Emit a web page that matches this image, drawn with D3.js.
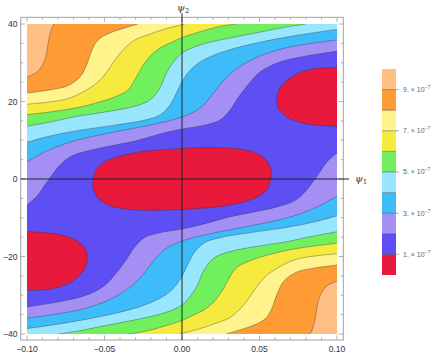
<!DOCTYPE html>
<html><head><meta charset="utf-8">
<script src="https://cdn.jsdelivr.net/npm/d3@7"></script>
<style>body{margin:0;background:#fff}</style>
</head><body>
<svg id="c" width="448" height="360"></svg>
<script>
// ---------------- data (ψ1, ψ2) ----------------
const levelValues = [1e-7,2e-7,3e-7,4e-7,5e-7,6e-7,7e-7,8e-7,9e-7];
const legendTickValues = [1e-7,3e-7,5e-7,7e-7,9e-7];
const legendTickLabels = ["1.","3.","5.","7.","9."];
const xTickValues = [-0.1,-0.05,0,0.05,0.1];
const xTickLabels = ["\u22120.10","\u22120.05","0.00","0.05","0.10"];
const yTickValues = [-40,-20,0,20,40];
const yTickLabels = ["\u221240","\u221220","0","20","40"];

// contour level 9 (×1e-7)
const upper9 = [[-0.1,26.3],[-0.0935,27.6],[-0.089,30.2],[-0.087,33.3],[-0.0858,36.4],[-0.0839,39],[-0.0826,40]];
const lower9 = [[0.1,-26.3],[0.0935,-27.6],[0.089,-30.2],[0.087,-33.3],[0.0858,-36.4],[0.0839,-39],[0.0826,-40]];
// level 8
const upper8 = [[-0.1,22.2],[-0.0852,23.0],[-0.0742,24.0],[-0.0658,26.3],[-0.0613,29.7],[-0.0581,33.3],[-0.0542,35.9],[-0.0465,37.7],[-0.0368,39.0],[-0.0284,40]];
const lower8 = [[0.1,-22.2],[0.0852,-23.0],[0.0742,-24.0],[0.0658,-26.3],[0.0613,-29.7],[0.0581,-33.3],[0.0542,-35.9],[0.0465,-37.7],[0.0368,-39.0],[0.0284,-40]];
// level 7
const upper7 = [[-0.1,19.3],[-0.0852,19.9],[-0.0723,20.9],[-0.0594,23.5],[-0.0529,25.5],[-0.0477,28.1],[-0.0432,30.7],[-0.0381,33.3],[-0.0303,35.9],[-0.0206,37.4],[-0.011,38.7],[0.0019,40]];
const lower7 = [[0.1,-19.3],[0.0852,-19.9],[0.0723,-20.9],[0.0594,-23.5],[0.0529,-25.5],[0.0477,-28.1],[0.0432,-30.7],[0.0381,-33.3],[0.0303,-35.9],[0.0206,-37.4],[0.011,-38.7],[-0.0019,-40]];
// level 6
const upper6 = [[-0.1,16.6],[-0.0852,17.3],[-0.069,18.3],[-0.0529,19.9],[-0.0432,21.2],[-0.0348,23.0],[-0.0297,26.1],[-0.0258,28.9],[-0.0206,31.7],[-0.0142,33.8],[-0.0065,35.3],[0,36.5],[0.0116,38.0],[0.0235,39.3],[0.035,40]];
const lower6 = [[0.1,-16.6],[0.0852,-17.3],[0.069,-18.3],[0.0529,-19.9],[0.0432,-21.2],[0.0348,-23.0],[0.0297,-26.1],[0.0258,-28.9],[0.0206,-31.7],[0.0142,-33.8],[0.0065,-35.3],[0,-36.5],[-0.0116,-38.0],[-0.0235,-39.3],[-0.035,-40]];
// level 5
const upper5 = [[-0.1,13.6],[-0.0852,14.7],[-0.0658,16.3],[-0.0465,17.5],[-0.0303,18.8],[-0.0206,20.4],[-0.0142,23.5],[-0.0097,27.6],[-0.0045,30.7],[0,32.5],[0.0116,34.6],[0.031,36.4],[0.0503,37.9],[0.068,39.3],[0.08,40]];
const lower5 = [[0.1,-13.6],[0.0852,-14.7],[0.0658,-16.3],[0.0465,-17.5],[0.0303,-18.8],[0.0206,-20.4],[0.0142,-23.5],[0.0097,-27.6],[0.0045,-30.7],[0,-32.5],[-0.0116,-34.6],[-0.031,-36.4],[-0.0503,-37.9],[-0.068,-39.3],[-0.08,-40]];
// level 4
const upper4 = [[-0.1,9.5],[-0.0852,11.1],[-0.0658,12.6],[-0.0432,13.9],[-0.0239,15.2],[-0.0142,16.5],[-0.0077,19.1],[-0.0032,22.5],[0.0006,25.5],[0.0065,28.6],[0.0148,30.9],[0.0277,33.0],[0.0503,35.3],[0.0761,37.2],[0.1,38.6]];
const lower4 = [[0.1,-9.5],[0.0852,-11.1],[0.0658,-12.6],[0.0432,-13.9],[0.0239,-15.2],[0.0142,-16.5],[0.0077,-19.1],[0.0032,-22.5],[-0.0006,-25.5],[-0.0065,-28.6],[-0.0148,-30.9],[-0.0277,-33.0],[-0.0503,-35.3],[-0.0761,-37.2],[-0.1,-38.6]];
// level 3
const upper3 = [[-0.1,4.4],[-0.0884,7.0],[-0.0723,9.5],[-0.0529,11.4],[-0.0335,12.9],[-0.0174,14.2],[0,16.0],[0.0116,18.3],[0.0194,21.7],[0.0258,25.0],[0.0342,28.1],[0.0471,31.2],[0.0665,33.8],[0.1,35.9]];
const lower3 = [[0.1,-4.4],[0.0884,-7.0],[0.0723,-9.5],[0.0529,-11.4],[0.0335,-12.9],[0.0174,-14.2],[0,-16.0],[-0.0116,-18.3],[-0.0194,-21.7],[-0.0258,-25.0],[-0.0342,-28.1],[-0.0471,-31.2],[-0.0665,-33.8],[-0.1,-35.9]];
// level 2
const upper2 = [[-0.1,-6.7],[-0.0935,-4.4],[-0.0884,-1.5],[-0.0839,1.0],[-0.0787,3.6],[-0.0723,5.7],[-0.0613,7.2],[-0.0465,8.5],[-0.0303,9.8],[-0.0142,11.6],[0,12.9],[0.0148,13.9],[0.0245,15.2],[0.031,17.8],[0.0361,20.9],[0.0419,24.0],[0.0503,27.6],[0.0632,30.2],[0.0794,31.7],[0.1,33.0]];
const lower2 = [[0.1,6.7],[0.0935,4.4],[0.0884,1.5],[0.0839,-1.0],[0.0787,-3.6],[0.0723,-5.7],[0.0613,-7.2],[0.0465,-8.5],[0.0303,-9.8],[0.0142,-11.6],[0,-12.9],[-0.0148,-13.9],[-0.0245,-15.2],[-0.031,-17.8],[-0.0361,-20.9],[-0.0419,-24.0],[-0.0503,-27.6],[-0.0632,-30.2],[-0.0794,-31.7],[-0.1,-33.0]];
// level 1 (closed minima)
const ellipseCenter = [[-0.0574,-0.3],[-0.0555,2.3],[-0.051,4.1],[-0.0419,5.7],[-0.0271,7.0],[-0.011,7.6],[0.0006,7.9],[0.02,8.1],[0.0374,7.7],[0.0477,6.7],[0.0542,4.9],[0.0574,2.3],[0.0574,0.3],[0.0555,-2.3],[0.051,-4.1],[0.0419,-5.7],[0.0271,-7.0],[0.011,-7.6],[-0.0006,-7.9],[-0.02,-8.1],[-0.0374,-7.7],[-0.0477,-6.7],[-0.0542,-4.9],[-0.0574,-2.3]];
const ellipseRight = [[0.1,28.7],[0.0845,28.4],[0.0716,26.6],[0.0632,23.5],[0.0613,21.0],[0.0619,18.4],[0.0677,16.0],[0.0806,14.2],[0.1,13.6]];
const ellipseLeft = [[-0.1,-28.7],[-0.0845,-28.4],[-0.0716,-26.6],[-0.0632,-23.5],[-0.0613,-21.0],[-0.0619,-18.4],[-0.0677,-16.0],[-0.0806,-14.2],[-0.1,-13.6]];

// ---------------- styles ----------------
const bandColors = ["#e8193b","#5e4ff4","#a48ff5","#3ebcf9","#98e6fd","#70f05c","#f5ea3d","#fff48b","#ff9b35","#ffbe84"];

// ---------------- drawing ----------------
const svg = d3.select("#c");
const x = d3.scaleLinear([-0.1,0.1],[27,337]);
const y = d3.scaleLinear([-40,40],[334,24]);
const line = d3.line().x(d=>x(d[0])).y(d=>y(d[1])).curve(d3.curveCatmullRom.alpha(0.5));
const closedLine = d3.line().x(d=>x(d[0])).y(d=>y(d[1])).curve(d3.curveCatmullRomClosed.alpha(0.5));
const seg = pts => line(pts).replace(/^M/,"L");
const P = (a,b)=>`L${x(a)},${y(b)}`;

svg.append("defs").append("clipPath").attr("id","pc").append("rect")
  .attr("x",x(-0.1)).attr("y",y(40)).attr("width",x(0.1)-x(-0.1)).attr("height",y(-40)-y(40));
const g = svg.append("g").attr("clip-path","url(#pc)");

g.append("rect").attr("x",x(-0.1)).attr("y",y(40)).attr("width",x(0.1)-x(-0.1)).attr("height",y(-40)-y(40)).attr("fill",bandColors[8]);
g.append("path").attr("d",line(upper9)+P(-0.1,40)+"Z").attr("fill",bandColors[9]);
g.append("path").attr("d",line(lower9)+P(0.1,-40)+"Z").attr("fill",bandColors[9]);

const bands = [
  {lvl:8, up:upper8, lo:lower8, top:true},
  {lvl:7, up:upper7, lo:lower7, top:true},
  {lvl:6, up:upper6, lo:lower6, top:true},
  {lvl:5, up:upper5, lo:lower5, top:true},
  {lvl:4, up:upper4, lo:lower4, top:false},
  {lvl:3, up:upper3, lo:lower3, top:false},
  {lvl:2, up:upper2, lo:lower2, top:false}
];
bands.forEach(b=>{
  const d = line(b.up) + (b.top?P(0.1,40):"") + seg(b.lo) + (b.top?P(-0.1,-40):"") + "Z";
  g.append("path").attr("d",d).attr("fill",bandColors[b.lvl-1]);
});
g.append("path").attr("d",closedLine(ellipseCenter)).attr("fill",bandColors[0]);
g.append("path").attr("d",line(ellipseRight)+"Z").attr("fill",bandColors[0]);
g.append("path").attr("d",line(ellipseLeft)+"Z").attr("fill",bandColors[0]);

const stroke = sel => sel.attr("fill","none").attr("stroke","#2a2a3a").attr("stroke-opacity",0.55).attr("stroke-width",0.65);
[upper9,lower9,upper8,lower8,upper7,lower7,upper6,lower6,upper5,lower5,upper4,lower4,upper3,lower3,upper2,lower2,ellipseRight,ellipseLeft]
  .forEach(c=>stroke(g.append("path").attr("d",line(c))));
stroke(g.append("path").attr("d",closedLine(ellipseCenter)));

// frame
const fx0=20.7, fx1=343.3, fy0=17.3, fy1=340;
svg.append("rect").attr("x",fx0).attr("y",fy0).attr("width",fx1-fx0).attr("height",fy1-fy0)
  .attr("fill","none").attr("stroke","#a0a0a0").attr("stroke-width",1);
const tk = svg.append("g").attr("stroke","#a0a0a0").attr("stroke-width",0.8);
const xMinor = d3.range(-10,11).map(i=>i/100);
xMinor.forEach(v=>{
  const major = Math.abs(Math.round(v*100)%5)===0;
  const L = major?4.5:2.6;
  tk.append("line").attr("x1",x(v)).attr("x2",x(v)).attr("y1",fy1).attr("y2",fy1-L);
  tk.append("line").attr("x1",x(v)).attr("x2",x(v)).attr("y1",fy0).attr("y2",fy0+L);
});
const yMinor = d3.range(-40,41,5);
yMinor.forEach(v=>{
  const major = v%20===0;
  const L = major?4.5:2.6;
  tk.append("line").attr("y1",y(v)).attr("y2",y(v)).attr("x1",fx0).attr("x2",fx0+L);
  tk.append("line").attr("y1",y(v)).attr("y2",y(v)).attr("x1",fx1).attr("x2",fx1-L);
});
const font = "'Liberation Sans', Arial, sans-serif";
xTickValues.forEach((v,i)=>{
  svg.append("text").attr("x",x(v)).attr("y",351.5).attr("text-anchor","middle")
    .attr("font-family",font).attr("font-size",8.6).attr("fill","#333").text(xTickLabels[i]);
});
yTickValues.forEach((v,i)=>{
  svg.append("text").attr("x",17.5).attr("y",y(v)).attr("dy","0.35em").attr("text-anchor","end")
    .attr("font-family",font).attr("font-size",8.6).attr("fill","#333").text(yTickLabels[i]);
});

// axes
svg.append("line").attr("x1",x(0)).attr("x2",x(0)).attr("y1",13).attr("y2",fy1).attr("stroke","#222").attr("stroke-width",1);
svg.append("line").attr("x1",fx0).attr("x2",349).attr("y1",y(0)).attr("y2",y(0)).attr("stroke","#222").attr("stroke-width",1);
const lab = (tx,ty,sub,anchor)=>{
  const t = svg.append("text").attr("x",tx).attr("y",ty).attr("text-anchor",anchor)
    .attr("font-family","'DejaVu Serif', serif").attr("font-style","italic").attr("font-size",10).attr("fill","#333");
  t.append("tspan").text("\u03c8");
  t.append("tspan").attr("dy",2).attr("font-size",7).attr("font-style","normal").text(sub);
};
lab(x(0)-5,11,"2","start");
lab(355,y(0)+3,"1","start");

// legend
const ly = d3.scaleLinear([0,1e-6],[275,69]);
const lx0 = 382, lw = 14;
const lg = svg.append("g");
for(let i=0;i<10;i++){
  lg.append("rect").attr("x",lx0).attr("y",ly((i+1)*1e-7)).attr("width",lw).attr("height",ly(i*1e-7)-ly((i+1)*1e-7)).attr("fill",bandColors[i]);
}
levelValues.forEach(v=>{
  lg.append("line").attr("x1",lx0).attr("x2",lx0+lw).attr("y1",ly(v)).attr("y2",ly(v)).attr("stroke","#2a2a3a").attr("stroke-opacity",0.5).attr("stroke-width",0.8);
});
legendTickValues.forEach((v,i)=>{
  lg.append("line").attr("x1",lx0+lw).attr("x2",lx0+lw+3).attr("y1",ly(v)).attr("y2",ly(v)).attr("stroke","#999").attr("stroke-width",0.8);
  const t = lg.append("text").attr("x",403).attr("y",ly(v)).attr("dy","0.35em")
    .attr("font-family",font).attr("font-size",7).attr("fill","#666");
  t.append("tspan").text(legendTickLabels[i]+" \u00d7 10");
  t.append("tspan").attr("dy",-3).attr("font-size",5).text("\u22127");
});
</script>
</body></html>
